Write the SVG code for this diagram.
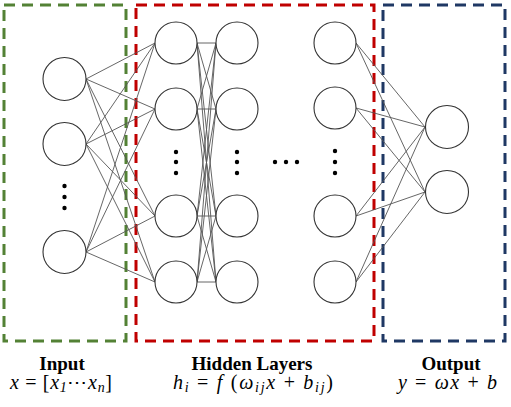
<svg xmlns="http://www.w3.org/2000/svg" width="511" height="407" viewBox="0 0 511 407">
<style>
.node{fill:#fff;stroke:#333;stroke-width:1.1}
.dot{fill:#000}
.box{fill:none;stroke-width:3;stroke-dasharray:11 7}
.conn line{stroke:#555;stroke-width:0.9}
.lbl{font-family:"Liberation Serif","Times New Roman",serif;font-weight:bold;font-size:19px;text-anchor:middle;fill:#000}
.math{font-family:"Liberation Serif","Times New Roman",serif;font-size:20px;fill:#000}
.v{font-style:italic}
.s{font-style:italic;font-size:14px}
</style>
<rect width="511" height="407" fill="#fff"/>
<g id="boxes">
<rect class="box" x="4" y="5" width="122" height="336" stroke="#538135"/>
<rect class="box" x="136" y="5" width="238" height="336" stroke="#C00000"/>
<rect class="box" x="383" y="5" width="122" height="336" stroke="#1F3864"/>
</g>
<g id="connectors" class="conn">
<line x1="86" y1="79" x2="155" y2="43"/><line x1="86" y1="79" x2="155" y2="109"/><line x1="86" y1="79" x2="155" y2="216"/><line x1="86" y1="79" x2="155" y2="282"/>
<line x1="86" y1="144" x2="155" y2="43"/><line x1="86" y1="144" x2="155" y2="109"/><line x1="86" y1="144" x2="155" y2="216"/><line x1="86" y1="144" x2="155" y2="282"/>
<line x1="86" y1="252" x2="155" y2="43"/><line x1="86" y1="252" x2="155" y2="109"/><line x1="86" y1="252" x2="155" y2="216"/><line x1="86" y1="252" x2="155" y2="282"/>
<line x1="197" y1="43" x2="216" y2="43"/><line x1="197" y1="43" x2="216" y2="109"/><line x1="197" y1="43" x2="216" y2="216"/><line x1="197" y1="43" x2="216" y2="282"/>
<line x1="197" y1="109" x2="216" y2="43"/><line x1="197" y1="109" x2="216" y2="109"/><line x1="197" y1="109" x2="216" y2="216"/><line x1="197" y1="109" x2="216" y2="282"/>
<line x1="197" y1="216" x2="216" y2="43"/><line x1="197" y1="216" x2="216" y2="109"/><line x1="197" y1="216" x2="216" y2="216"/><line x1="197" y1="216" x2="216" y2="282"/>
<line x1="197" y1="282" x2="216" y2="43"/><line x1="197" y1="282" x2="216" y2="109"/><line x1="197" y1="282" x2="216" y2="216"/><line x1="197" y1="282" x2="216" y2="282"/>
<line x1="356" y1="43" x2="425" y2="127"/><line x1="356" y1="43" x2="425" y2="192"/>
<line x1="356" y1="108" x2="425" y2="127"/><line x1="356" y1="108" x2="425" y2="192"/>
<line x1="356" y1="216" x2="425" y2="127"/><line x1="356" y1="216" x2="425" y2="192"/>
<line x1="356" y1="282" x2="425" y2="127"/><line x1="356" y1="282" x2="425" y2="192"/>
</g>
<g id="input-layer">
<circle id="in1" class="node" cx="64.5" cy="79" r="21.5"/>
<circle id="in2" class="node" cx="64.5" cy="144" r="21.5"/>
<circle id="in3" class="node" cx="64.5" cy="252" r="21.5"/>
<circle class="dot" cx="64.5" cy="186" r="2.2"/><circle class="dot" cx="64.5" cy="197" r="2.2"/><circle class="dot" cx="64.5" cy="208" r="2.2"/>
</g>
<g id="hidden-layer-1">
<circle class="node" cx="176" cy="43" r="21"/>
<circle class="node" cx="176" cy="109" r="21"/>
<circle class="node" cx="176" cy="216" r="21"/>
<circle class="node" cx="176" cy="282" r="21"/>
<circle class="dot" cx="176" cy="152" r="2.2"/><circle class="dot" cx="176" cy="162" r="2.2"/><circle class="dot" cx="176" cy="173" r="2.2"/>
</g>
<g id="hidden-layer-2">
<circle class="node" cx="237" cy="43" r="21"/>
<circle class="node" cx="237" cy="109" r="21"/>
<circle class="node" cx="237" cy="216" r="21"/>
<circle class="node" cx="237" cy="282" r="21"/>
<circle class="dot" cx="237" cy="152" r="2.2"/><circle class="dot" cx="237" cy="162" r="2.2"/><circle class="dot" cx="237" cy="173" r="2.2"/>
</g>
<g id="hidden-ellipsis">
<circle class="dot" cx="275" cy="162" r="2.2"/><circle class="dot" cx="286" cy="162" r="2.2"/><circle class="dot" cx="297" cy="162" r="2.2"/>
</g>
<g id="hidden-layer-n">
<circle class="node" cx="335" cy="43" r="21"/>
<circle class="node" cx="335" cy="108" r="21"/>
<circle class="node" cx="335" cy="216" r="21"/>
<circle class="node" cx="335" cy="282" r="21"/>
<circle class="dot" cx="335" cy="151" r="2.2"/><circle class="dot" cx="335" cy="162" r="2.2"/><circle class="dot" cx="335" cy="173" r="2.2"/>
</g>
<g id="output-layer">
<circle class="node" cx="447" cy="127" r="21.5"/>
<circle class="node" cx="447" cy="192" r="21.5"/>
</g>
<g id="labels">
<text class="lbl" x="62" y="370">Input</text>
<text class="math" x="10" y="389" textLength="102" lengthAdjust="spacing"><tspan class="v">x</tspan> = [<tspan class="v">x</tspan><tspan class="s" dy="3">1</tspan><tspan dy="-3">⋯</tspan><tspan class="v">x</tspan><tspan class="s" dy="3">n</tspan><tspan dy="-3">]</tspan></text>
<text class="lbl" x="252" y="370">Hidden Layers</text>
<text class="math" x="173" y="389" textLength="160" lengthAdjust="spacing"><tspan class="v">h</tspan><tspan class="s" dy="3">i</tspan><tspan dy="-3"> = </tspan><tspan class="v">f</tspan> (<tspan class="v">ω</tspan><tspan class="s" dy="3">ij</tspan><tspan class="v" dy="-3">x</tspan> + <tspan class="v">b</tspan><tspan class="s" dy="3">ij</tspan><tspan dy="-3">)</tspan></text>
<text class="lbl" x="451" y="370">Output</text>
<text class="math" x="398" y="389" textLength="99" lengthAdjust="spacing"><tspan class="v">y</tspan> = <tspan class="v">ωx</tspan> + <tspan class="v">b</tspan></text>
</g>
</svg>
